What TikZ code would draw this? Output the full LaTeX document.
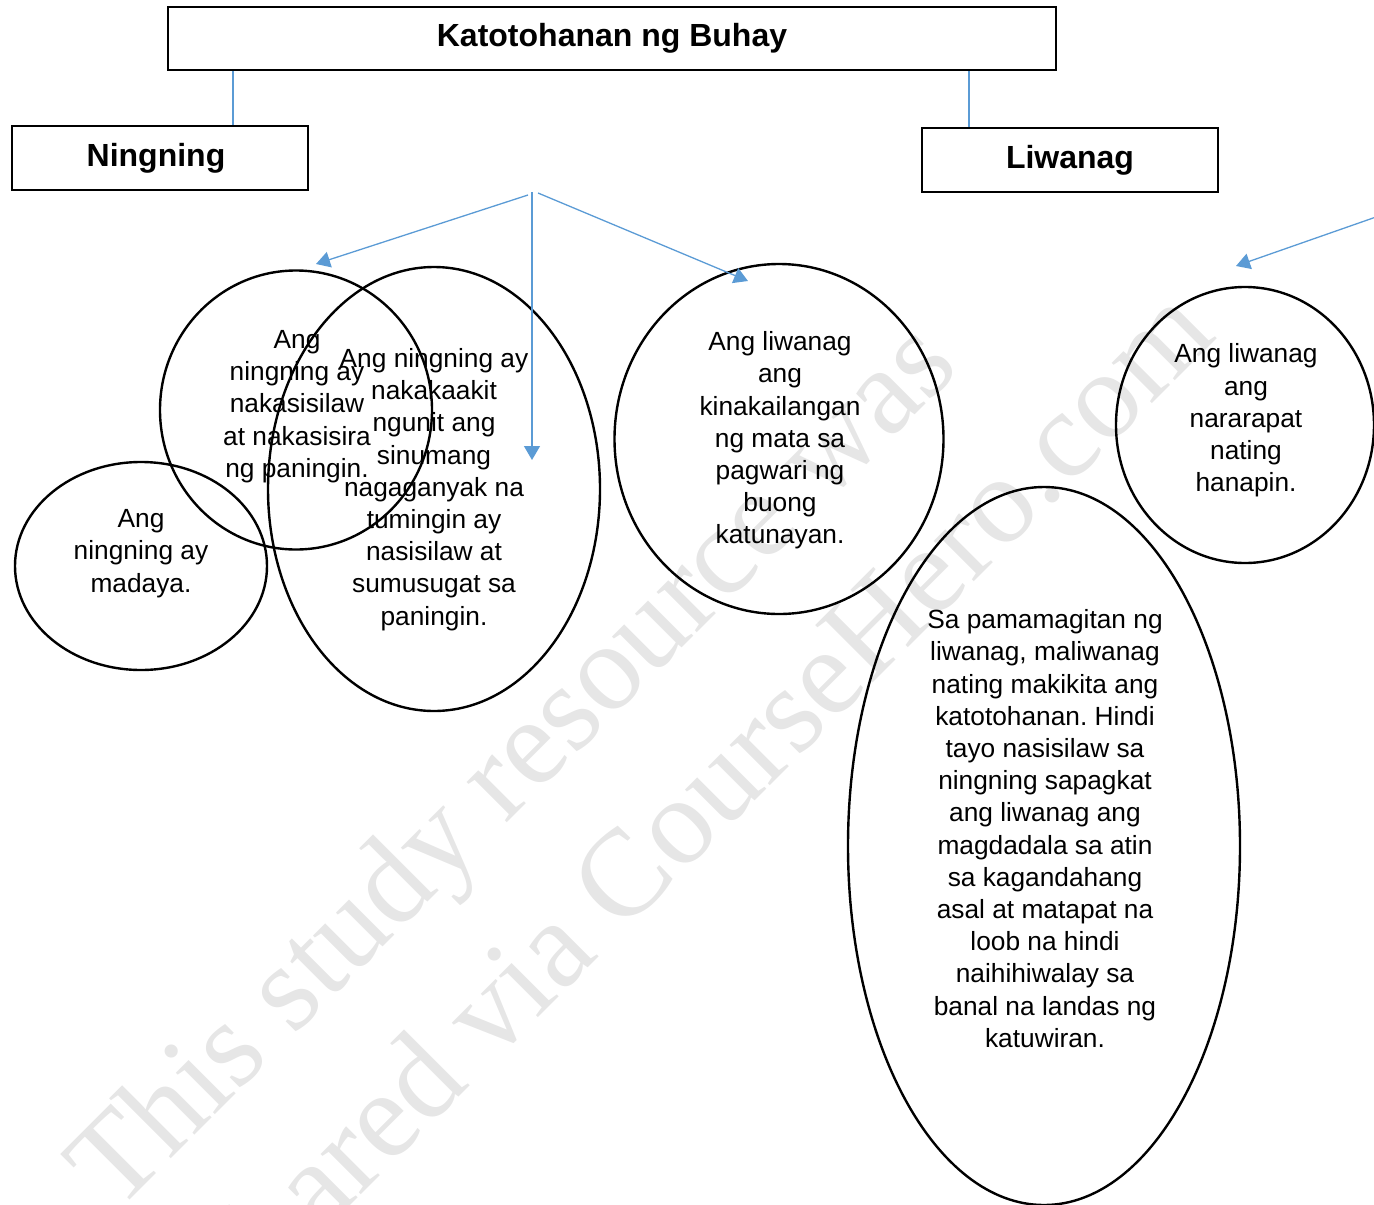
\documentclass[tikz,border=0pt]{standalone}
\usepackage{fontspec}
\setmainfont{Liberation Sans}
\newfontfamily\wmfont{Liberation Serif}
\usetikzlibrary{arrows.meta,shapes.geometric}
\definecolor{linkblue}{RGB}{91,155,213}
\definecolor{wmgray}{RGB}{230,230,230}
\frenchspacing
\begin{document}
\begin{tikzpicture}[x=1pt,y=-1pt,
  box/.style={draw=black,line width=2pt,rectangle,minimum width=#1,minimum height=64pt,inner sep=0pt,font=\fontsize{32}{36}\selectfont\bfseries},
  oval/.style={draw=black,line width=2.4pt,ellipse,inner sep=0pt},
  txt/.style={align=center,inner sep=0pt,font=\fontsize{26.3}{32.2}\selectfont},
  link/.style={draw=linkblue,line width=1.3pt},
  arr/.style={link,-{Triangle[length=14pt,width=16pt]}},
  wm/.style={text=wmgray,font=\wmfont\fontsize{124}{124}\selectfont,rotate=45,anchor=base west,inner sep=0pt}]
\useasboundingbox (0,0) rectangle (1374,1205);
\clip (0,0) rectangle (1374,1205);
% watermark
\node[wm] (wm1) at (116,1214) {This study resource was};
\node[wm] (wm2) at (242,1314) {shared via CourseHero.com};
% boxes
\node[box=888pt,minimum height=63pt] (title) at (612,38.5) {Katotohanan ng Buhay};
\node[box=296pt] (ning) at (160,158) {\kern-8pt Ningning};
\node[box=296pt] (liw) at (1070,160) {Liwanag};
\draw[link] ([xshift=66pt]title.south west) -- ([xshift=222pt]ning.north west);
\draw[link] ([xshift=802pt]title.south west) -- ([xshift=48pt]liw.north west);
% ellipses
\node[oval,minimum width=272pt,minimum height=279pt] (ea) at (296,410) {};
\node[oval,minimum width=332pt,minimum height=444pt] (eb) at (434,489) {};
\node[oval,minimum width=252pt,minimum height=208pt] (ec) at (141,566) {};
\node[oval,minimum width=329pt,minimum height=350pt] (ed) at (779,439) {};
\node[oval,minimum width=258pt,minimum height=276pt] (ee) at (1245,425) {};
\node[oval,minimum width=392pt,minimum height=718pt] (ef) at (1044,846) {};
% texts
\node[txt] (ta) at (297,406.5) {Ang\\ningning ay\\nakasisilaw\\at nakasisira\\ng paningin.};
\node[txt] (tb) at (434,489.5) {Ang ningning ay\\nakakaakit\\ngunit ang\\sinumang\\nagaganyak na\\tumingin ay\\nasisilaw at\\sumusugat sa\\paningin.};
\node[txt] (tc) at (141,553.5) {Ang\\ningning ay\\madaya.};
\node[txt] (td) at (780,440.5) {Ang liwanag\\ang\\kinakailangan\\ng mata sa\\pagwari ng\\buong\\katunayan.};
\node[txt] (te) at (1246,420.5) {Ang liwanag\\ang\\nararapat\\nating\\hanapin.};
\node[txt] (tf) at (1045,828.5) {Sa pamamagitan ng\\liwanag, maliwanag\\nating makikita ang\\katotohanan. Hindi\\tayo nasisilaw sa\\ningning sapagkat\\ang liwanag ang\\magdadala sa atin\\sa kagandahang\\asal at matapat na\\loob na hindi\\naihihiwalay sa\\banal na landas ng\\katuwiran.};
% arrows
\coordinate (s1) at (528,195);
\coordinate (s2) at (532,192);
\coordinate (s3) at (538,193);
\coordinate (s4) at (1376,217);
\coordinate (t1) at (316,264);
\coordinate (t2) at (532,460);
\coordinate (t3) at (748,281);
\coordinate (t4) at (1236,266);
\draw[arr] (s1) -- (t1);
\draw[arr] (s2) -- (t2);
\draw[arr] (s3) -- (t3);
\draw[arr] (s4) -- (t4);
\end{tikzpicture}
\end{document}
